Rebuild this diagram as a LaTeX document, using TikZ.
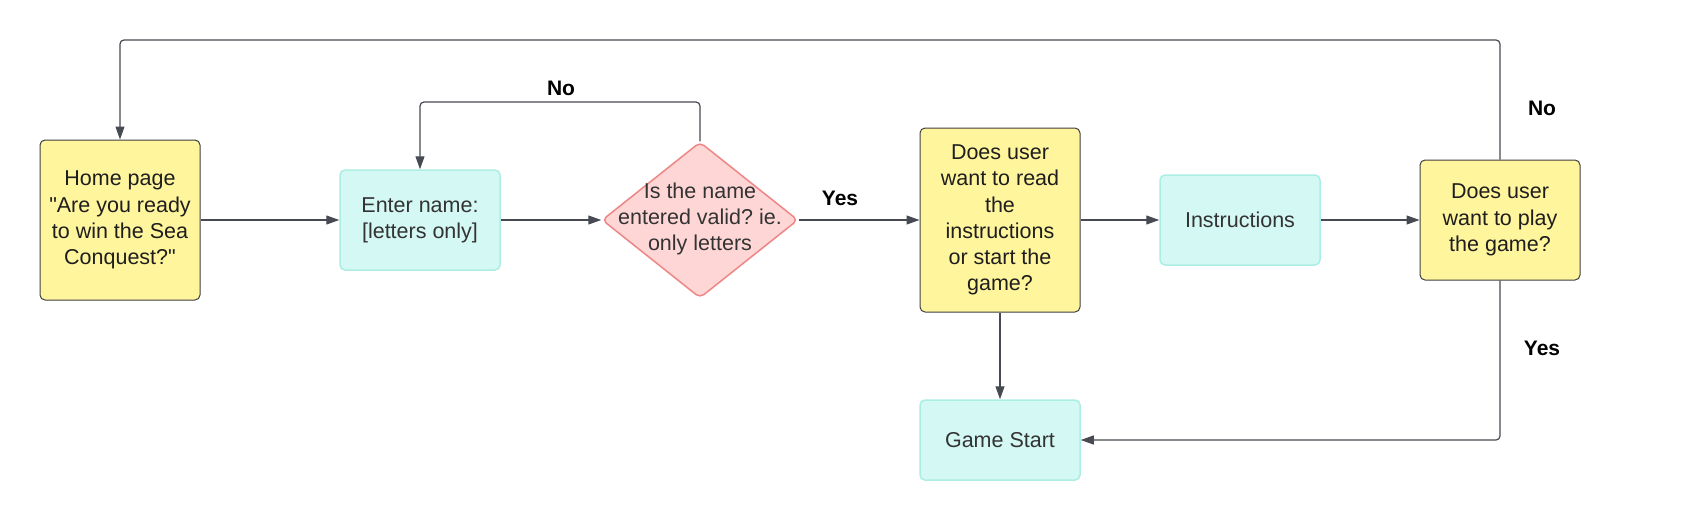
\documentclass[tikz,border=0pt]{standalone}
\usepackage{fontspec}
\newfontfamily\lsans{Liberation Sans}
\usetikzlibrary{arrows.meta,shapes.geometric}
\definecolor{yfill}{HTML}{FFF59D}
\definecolor{yline}{HTML}{3F3F3F}
\definecolor{tfill}{HTML}{D4F8F3}
\definecolor{tline}{HTML}{ADEEE4}
\definecolor{pfill}{HTML}{FFD6D6}
\definecolor{pline}{HTML}{EE8686}
\definecolor{connc}{HTML}{474A52}
\definecolor{txt}{HTML}{1E1E1E}
\definecolor{txtg}{HTML}{333333}
\frenchspacing
\begin{document}
\begin{tikzpicture}[x=1pt,y=-1pt,
  basefont/.style={font=\lsans\fontsize{21.5}{26.3}\selectfont\frenchspacing},
  yellowbox/.style={basefont, draw=yline, fill=yfill, line width=1pt, rounded corners=5pt,
    minimum width=160pt, inner sep=0pt, align=center, text=txt},
  tealbox/.style={basefont, draw=tline, fill=tfill, line width=1.5pt, rounded corners=5pt,
    minimum width=160pt, inner sep=0pt, align=center, text=txtg},
  pinkdia/.style={diamond, draw=pline, fill=pfill, line width=1.5pt, rounded corners=5pt,
    minimum width=196pt, minimum height=156pt, inner sep=0pt},
  diatext/.style={basefont, inner sep=0pt, align=center, text=txtg},
  lbl/.style={font=\lsans\bfseries\fontsize{21}{25}\selectfont, text=black, inner sep=0pt},
  conn/.style={draw=connc, line width=1.2pt, rounded corners=4pt,
    -{Triangle[length=13pt,width=9pt]}}
]
\useasboundingbox (0,0) rectangle (1700,520);
\fill[white] (0,0) rectangle (1700,520);

\node[yellowbox, minimum height=160pt] (home) at (120,220)
  {Home page\\"Are you ready\\to win the Sea\\Conquest?"};
\node[tealbox, minimum height=100pt] (enter) at (420,220)
  {Enter name:\\{[letters only]}};
\node[pinkdia] (valid) at (700,220) {};
\node[diatext] (validtxt) at (700,219)
  {Is the name\\entered valid? ie.\\only letters};
\node[yellowbox, minimum height=184pt] (read) at (1000,220)
  {Does user\\want to read\\the\\instructions\\or start the\\game?};
\node[tealbox, minimum height=90pt] (instr) at (1240,220) {Instructions};
\node[yellowbox, minimum height=120pt] (play) at (1500,220)
  {Does user\\want to play\\the game?};
\node[tealbox, minimum height=80pt] (start) at (1000,440) {Game Start};

\coordinate (noloop) at (700,102);
\coordinate (toploop) at (1500,40);
\coordinate (botloop) at (1500,440);

\draw[conn] (home.east) -- (enter.west);
\draw[conn] (enter.east) -- (valid.west);
\draw[conn] (valid.east) -- (read.west);
\draw[conn] (read.east) -- (instr.west);
\draw[conn] (instr.east) -- (play.west);
\draw[conn] (read.south) -- (start.north);
\draw[conn] (valid.north) -- (noloop) -| (enter.north);
\draw[conn] (play.north) -- (toploop) -| (home.north);
\draw[conn] (play.south) -- (botloop) -- (start.east);

\node[lbl] (lno1) at (561,88) {No};
\node[lbl] (lyes1) at (840,198) {Yes};
\node[lbl] (lno2) at (1542,108) {No};
\node[lbl] (lyes2) at (1542,348) {Yes};
\end{tikzpicture}
\end{document}
